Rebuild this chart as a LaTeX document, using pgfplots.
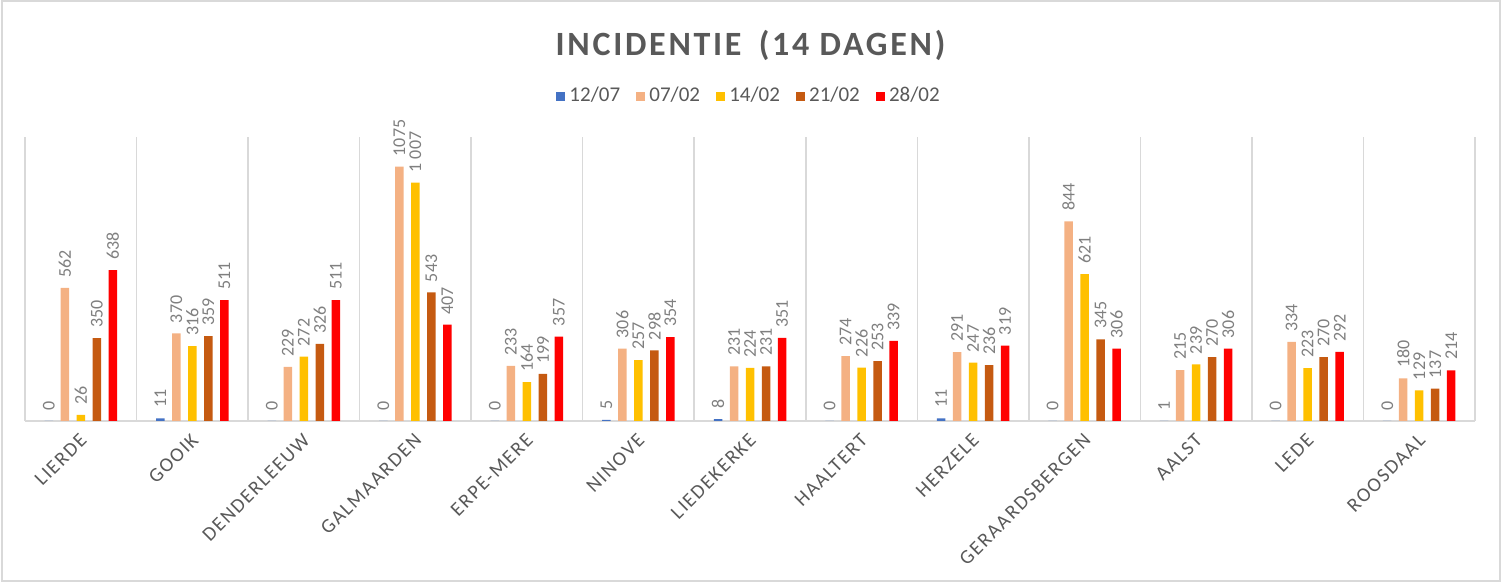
\documentclass[border=0pt]{standalone}
\usepackage{pgfplots}
\pgfplotsset{compat=1.18}
\usepackage{fontspec}
\setmainfont{Carlito}
\newfontfamily\spacedfont[LetterSpace=8]{Carlito}
\newfontfamily\titlefont[LetterSpace=8]{Carlito}
\definecolor{cblue}{HTML}{4472C4}
\definecolor{corange}{HTML}{F4B183}
\definecolor{cyellow}{HTML}{FFC000}
\definecolor{cbrown}{HTML}{C55A11}
\definecolor{cred}{HTML}{FF0000}
\definecolor{txtgray}{HTML}{595959}
\definecolor{lblgray}{HTML}{7F7F7F}
\definecolor{gridgray}{HTML}{D9D9D9}
\begin{document}
\begin{tikzpicture}
\useasboundingbox (0,0) rectangle (750.5pt,291.5pt);
\draw[gridgray, line width=1pt] (0.75pt,0.75pt) rectangle (749.75pt,290.75pt);
\node[font=\titlefont\bfseries\fontsize{17}{20}\selectfont, text=txtgray] at (375.25pt,269pt) {INCIDENTIE\hspace{0.2em} (14 DAGEN)};
\begin{axis}[
    at={(12.5pt,81pt)}, anchor=south west,
    scale only axis, width=725pt, height=142pt,
    ybar=3.75pt, bar width=4.25pt,
    xmin=-0.5, xmax=12.5, ymin=0, ymax=1200,
    clip=false,
    axis x line*=bottom, axis y line=none,
    x axis line style={gridgray, line width=1.2pt},
    xtick={0,...,12},
    xticklabels={LIERDE,GOOIK,DENDERLEEUW,GALMAARDEN,ERPE-MERE,NINOVE,LIEDEKERKE,HAALTERT,HERZELE,GERAARDSBERGEN,AALST,LEDE,ROOSDAAL},
    major tick length=0pt, minor tick length=0pt,
    minor xtick={-0.5,0.5,...,12.5},
    xminorgrids, minor grid style={gridgray, line width=0.75pt},
    ytick=\empty,
    xticklabel style={xshift=-1pt, yshift=-5.5pt, rotate=45, anchor=north east, inner sep=0pt,
        font=\spacedfont\fontsize{10}{12}\selectfont, text=txtgray},
    /pgf/number format/assume math mode=true,
    /pgf/number format/1000 sep={},
    nodes near coords,
    every node near coord/.append style={rotate=90, anchor=west, inner xsep=5pt, font=\fontsize{9}{10}\selectfont, text=lblgray},
    legend columns=5,
    legend style={draw=none, at={(0.5,1.144)}, anchor=center, font=\fontsize{10.5}{12}\selectfont, text=txtgray,
        /tikz/every even column/.append style={column sep=6pt}},
    legend image code/.code={\fill[#1] (0pt,-2.3pt) rectangle (4.6pt,2.3pt);},
]
\addplot[fill=cblue, draw=none] coordinates {
    (0,0) (1,11) (2,0) (3,0) (4,0) (5,5) (6,8) (7,0) (8,11) (9,0) (10,1) (11,0) (12,0)};
\addplot[fill=corange, draw=none] coordinates {
    (0,562) (1,370) (2,229) (3,1075) (4,233) (5,306) (6,231) (7,274) (8,291) (9,844) (10,215) (11,334) (12,180)};
\addplot[fill=cyellow, draw=none, point meta=explicit symbolic, nodes near coords={\pgfplotspointmeta}] coordinates {
    (0,26)[26] (1,316)[316] (2,272)[272] (3,1007)[1 007] (4,164)[164] (5,257)[257] (6,224)[224]
    (7,226)[226] (8,247)[247] (9,621)[621] (10,239)[239] (11,223)[223] (12,129)[129]};
\addplot[fill=cbrown, draw=none] coordinates {
    (0,350) (1,359) (2,326) (3,543) (4,199) (5,298) (6,231) (7,253) (8,236) (9,345) (10,270) (11,270) (12,137)};
\addplot[fill=cred, draw=none] coordinates {
    (0,638) (1,511) (2,511) (3,407) (4,357) (5,354) (6,351) (7,339) (8,319) (9,306) (10,306) (11,292) (12,214)};
\legend{12/07,07/02,14/02,21/02,28/02}
\end{axis}
\end{tikzpicture}
\end{document}
